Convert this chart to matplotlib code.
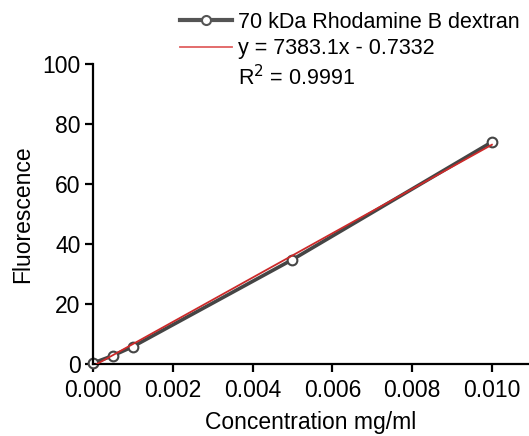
import matplotlib
matplotlib.use("Agg")
import matplotlib.pyplot as plt
import numpy as np
from matplotlib.lines import Line2D

plt.rcParams['font.family'] = ['Liberation Sans', 'DejaVu Sans']

# data
conc = [0.0, 0.0005, 0.001, 0.005, 0.010]
fluor = [0.3, 2.8, 5.8, 34.8, 74.0]
slope, intercept = 7383.1, -0.7332
r2 = 0.9991

fig = plt.figure(figsize=(5.29, 4.36), dpi=100)
# axes runs off the right edge of the picture, as in the original
ax = fig.add_axes([93 / 529, 1 - 364 / 436, 436 / 529, 300 / 436])

ax.plot(conc, fluor, color='#454545', lw=2.6, marker='o', ms=7,
        mfc='white', mec='#454545', mew=1.5, zorder=2, clip_on=False)
xf = np.linspace(0, 0.010, 50)
ax.plot(xf, slope * xf + intercept, color='#cc2a2a', lw=1.3, zorder=3)

ax.set_xlim(0, 0.01093)
ax.set_ylim(0, 100)
ax.set_xticks(np.arange(0, 0.0101, 0.002))
ax.set_xticklabels(['0.000', '0.002', '0.004', '0.006', '0.008', '0.010'])
ax.set_yticks(range(0, 101, 20))
ax.spines['top'].set_visible(False)
ax.spines['right'].set_visible(False)
for s in ('left', 'bottom'):
    ax.spines[s].set_linewidth(1.6)
ax.tick_params(direction='out', length=6, width=1.6, labelsize=16.5, pad=3)
ax.tick_params(axis='x', pad=5)
ax.set_xlabel('Concentration mg/ml', fontsize=16.5, labelpad=6)
ax.set_ylabel('Fluorescence', fontsize=16.5, labelpad=6)

handles = [
    Line2D([], [], color='#555555', lw=3, marker='o', ms=6.5, mfc='white',
           mec='#555555', mew=1.5),
    Line2D([], [], color='#e06060', lw=1.3),
    Line2D([], [], color='none'),
]
labels = ['70 kDa Rhodamine B dextran', 'y = 7383.1x - 0.7332',
          'R$^2$ = 0.9991']
fig.legend(handles, labels, loc='upper left', bbox_to_anchor=(0.34, 0.973),
           frameon=False, fontsize=15.5, handlelength=2.4, handletextpad=0.28,
           labelspacing=0.25, borderaxespad=0, borderpad=0)

fig.savefig('out.png', dpi=100)
